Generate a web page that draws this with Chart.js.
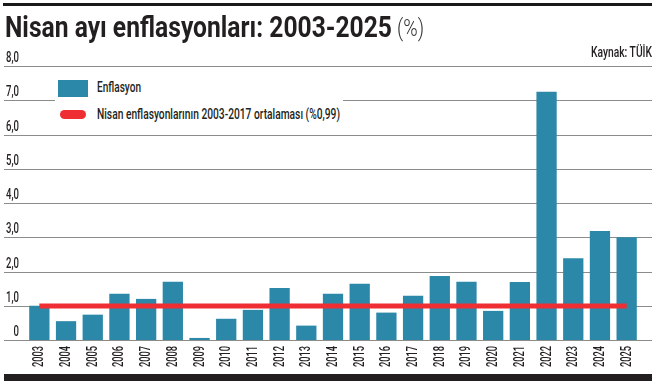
<!DOCTYPE html>
<html>
<head>
<meta charset="utf-8">
<script src="https://cdn.jsdelivr.net/npm/chart.js@4"></script>
<style>
  html, body { margin: 0; padding: 0; background: #fff; }
  #wrap { position: relative; width: 661px; height: 385px; overflow: hidden; font-family: Roboto, sans-serif; color: #231f20; }
  #chart { position: absolute; left: 0; top: 0; }
  #topline { position: absolute; left: 3px; top: 3px; width: 649px; height: 3px; background: #1a1a1a; }
  #bottomline { position: absolute; left: 4px; top: 374px; width: 648px; height: 7px; background: #231f20; }
  .fit { position: absolute; white-space: nowrap; transform-origin: 0 0; }
  #title { left: 5px; top: 10px; font-size: 29px; font-weight: bold; }
  #unit { left: 397px; top: 15px; font-size: 23px; font-weight: 300; color: #333; }
  #source { top: 44px; font-size: 14px; font-weight: 500; }
  #legend { position: absolute; left: 55px; top: 72px; width: 288px; height: 52px; background: #fff; }
  .swatch { position: absolute; left: 3px; top: 8px; width: 30px; height: 17px; background: #2b88a8; }
  .pill { position: absolute; left: 5px; top: 38px; width: 26px; height: 9px; border-radius: 5px; background: #ee2e32; }
  .ltext { font-size: 14px; font-weight: 500; }
</style>
</head>
<body>
<div id="wrap">
  <canvas id="chart" width="661" height="385"></canvas>
  <div id="topline"></div>
  <div id="bottomline"></div>
  <div id="title" class="fit" data-w="387">Nisan ayı enflasyonları: 2003-2025</div>
  <div id="unit" class="fit" data-w="27">(%)</div>
  <div id="source" class="fit" data-w="61" data-right="652">Kaynak: TÜİK</div>
  <div id="legend">
    <div class="swatch"></div>
    <div class="fit ltext" style="left:42px; top:7px" data-w="44">Enflasyon</div>
    <div class="pill"></div>
    <div class="fit ltext" style="left:42px; top:34px" data-w="243">Nisan enflasyonlarının 2003-2017 ortalaması (%0,99)</div>
  </div>
</div>
<script>
const years = ["2003", "2004", "2005", "2006", "2007", "2008", "2009", "2010", "2011", "2012", "2013", "2014",
  "2015", "2016", "2017", "2018", "2019", "2020", "2021", "2022", "2023", "2024", "2025"];
const inflation = [1.00, 0.55, 0.74, 1.35, 1.20, 1.70, 0.06, 0.62, 0.88, 1.52, 0.42, 1.35,
  1.64, 0.80, 1.29, 1.87, 1.70, 0.85, 1.69, 7.25, 2.39, 3.18, 3.00];
const averageLine = [{ x: "2003", y: 0.99 }, { x: "2025", y: 0.99 }];
const yTicks = [0, 1, 2, 3, 4, 5, 6, 7, 8];
const yTickLabels = ["0", "1,0", "2,0", "3,0", "4,0", "5,0", "6,0", "7,0", "8,0"];

// the print font is a condensed one, squeeze Roboto to the same widths
document.querySelectorAll(".fit").forEach((el) => {
  const w = el.getBoundingClientRect().width;
  const s = el.dataset.w / w;
  el.style.transform = "scaleX(" + s + ")";
  if (el.dataset.right) el.style.left = el.dataset.right - el.dataset.w + "px";
});

const LABEL_FONT = "500 14px Roboto, sans-serif";

// gridlines + labels drawn wider than the chart area, like the print graphic
const axisPlugin = {
  id: "axisText",
  beforeDatasetsDraw(chart) {
    const ctx = chart.ctx;
    const y = chart.scales.y;
    const x = chart.scales.x;
    ctx.save();
    ctx.strokeStyle = "#8c8c8c";
    ctx.lineWidth = 1.2;
    ctx.fillStyle = "#231f20";
    ctx.font = LABEL_FONT;
    yTicks.forEach((v, i) => {
      const py = Math.round(y.getPixelForValue(v)) + 0.5;
      ctx.beginPath();
      ctx.moveTo(4, py);
      ctx.lineTo(652, py);
      ctx.stroke();
      // 13px wide for "1,0"
      const s = 13 / ctx.measureText("1,0").width;
      ctx.save();
      ctx.translate(19, py - 5);
      ctx.scale(s, 1);
      ctx.textAlign = "right";
      ctx.textBaseline = "alphabetic";
      ctx.fillText(yTickLabels[i], 0, 0);
      ctx.restore();
    });
    const sx = 21 / ctx.measureText("2003").width;
    years.forEach((label, i) => {
      ctx.save();
      ctx.translate(x.getPixelForTick(i) + 0.5, y.bottom + 6);
      ctx.rotate(-Math.PI / 2);
      ctx.scale(sx, 1);
      ctx.textAlign = "right";
      ctx.textBaseline = "middle";
      ctx.fillText(label, 0, 0);
      ctx.restore();
    });
    ctx.restore();
  },
};

new Chart(document.getElementById("chart"), {
  data: {
    labels: years,
    datasets: [
      {
        type: "line",
        label: "Nisan enflasyonlarının 2003-2017 ortalaması (%0,99)",
        data: averageLine,
        borderColor: "#ee2e32",
        borderWidth: 5,
        borderCapStyle: "butt",
        pointRadius: 0,
        order: 0,
      },
      {
        type: "bar",
        label: "Enflasyon",
        data: inflation,
        backgroundColor: "#2b88a8",
        barPercentage: 0.76,
        categoryPercentage: 1,
        order: 1,
      },
    ],
  },
  options: {
    responsive: false,
    animation: false,
    layout: { padding: { left: 26, right: 21, top: 66, bottom: 15 } },
    plugins: { legend: { display: false }, tooltip: { enabled: false } },
    scales: {
      y: { display: false, min: 0, max: 8 },
      x: {
        offset: true,
        grid: { display: false, drawTicks: false },
        border: { display: false },
        ticks: { display: false },
        afterFit(scale) { scale.height = 30; },
      },
    },
  },
  plugins: [axisPlugin],
});
</script>
</body>
</html>
